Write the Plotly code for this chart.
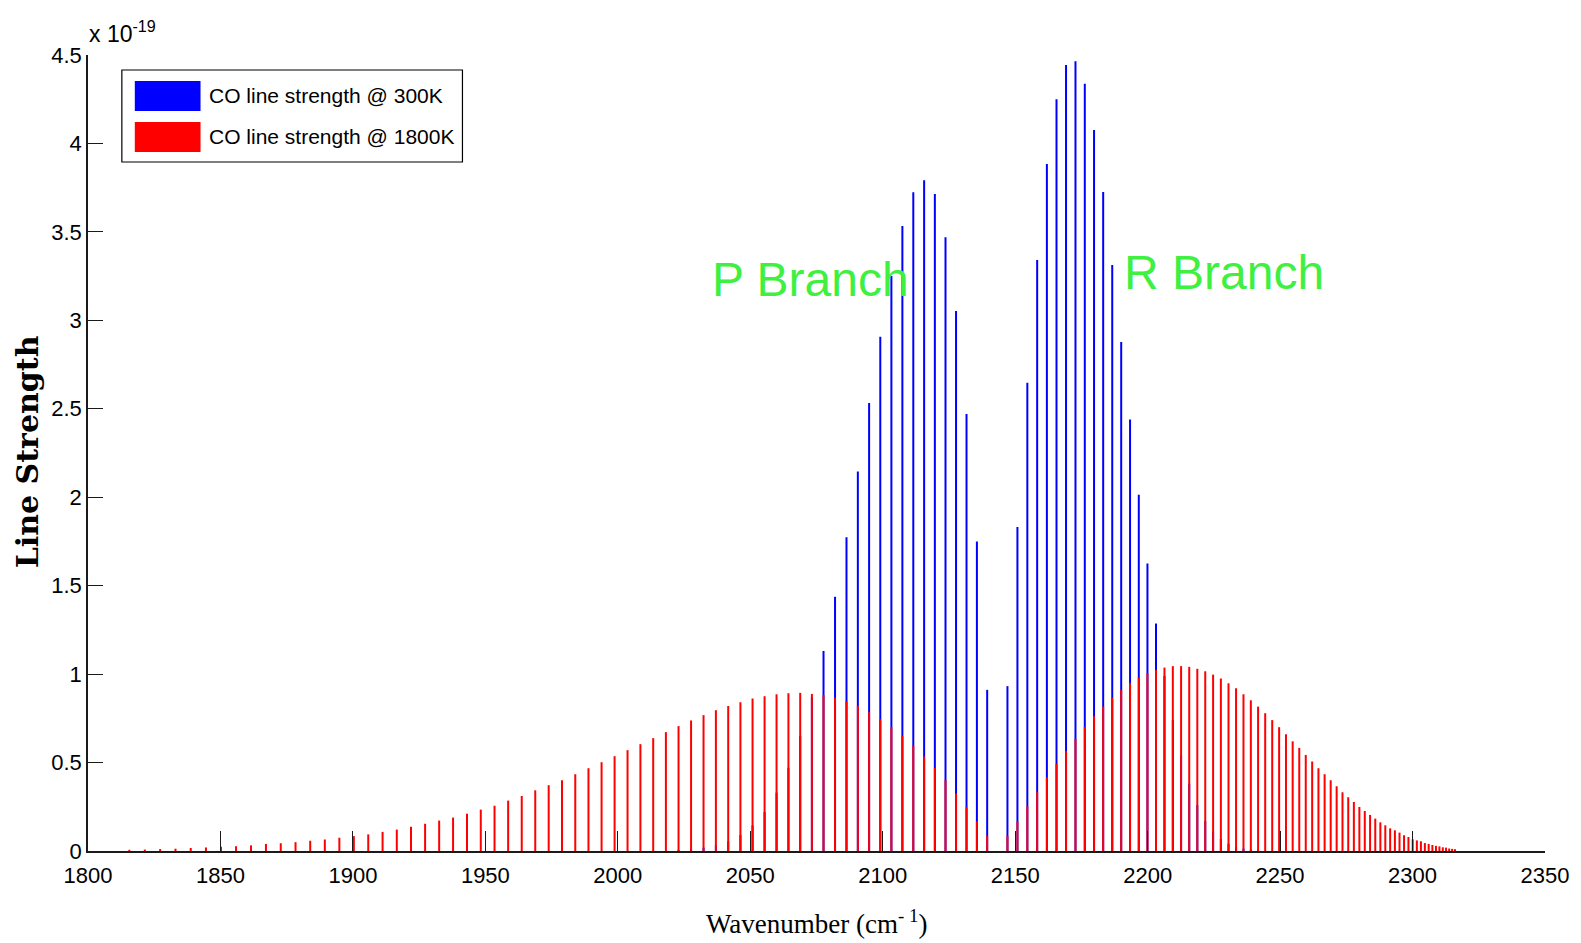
import plotly.graph_objects as go

# ---------------- data (line strength in units of 1e-19) ----------------
# P-branch line positions, P(1) ... P(67)  [cm^-1]
p_wavenumber = [2139.43, 2135.55, 2131.63, 2127.68, 2123.70, 2119.68, 2115.63, 2111.54, 2107.42, 2103.27,
                2099.08, 2094.86, 2090.61, 2086.32, 2082.00, 2077.65, 2073.26, 2068.85, 2064.40, 2059.92,
                2055.40, 2050.86, 2046.28, 2041.67, 2037.02, 2032.36, 2027.65, 2022.92, 2018.15, 2013.36,
                2008.53, 2003.67, 1998.78, 1993.87, 1988.92, 1983.94, 1978.93, 1973.90, 1968.83, 1963.73,
                1958.60, 1953.46, 1948.27, 1943.06, 1937.81, 1932.56, 1927.25, 1921.93, 1916.57, 1911.20,
                1905.79, 1900.35, 1894.88, 1889.40, 1883.88, 1878.34, 1872.76, 1867.17, 1861.54, 1855.89,
                1850.21, 1844.52, 1838.78, 1833.03, 1827.24, 1821.45, 1815.61]
# R-branch line positions, R(0) ... R(68)  [cm^-1]
r_wavenumber = [2147.08, 2150.85, 2154.59, 2158.30, 2161.97, 2165.60, 2169.20, 2172.76, 2176.28, 2179.77,
                2183.22, 2186.64, 2190.02, 2193.36, 2196.66, 2199.93, 2203.16, 2206.35, 2209.51, 2212.63,
                2215.70, 2218.75, 2221.75, 2224.71, 2227.64, 2230.53, 2233.38, 2236.18, 2238.96, 2241.69,
                2244.38, 2247.03, 2249.64, 2252.22, 2254.75, 2257.24, 2259.69, 2262.11, 2264.48, 2266.81,
                2269.10, 2271.35, 2273.56, 2275.72, 2277.85, 2279.93, 2281.97, 2283.97, 2285.93, 2287.85,
                2289.72, 2291.55, 2293.34, 2295.08, 2296.79, 2298.45, 2300.06, 2301.63, 2303.16, 2304.65,
                2306.09, 2307.49, 2308.84, 2310.15, 2311.42, 2312.64, 2313.82, 2314.95, 2316.03]

# 300 K strengths
p_strength_300 = [0.911, 1.75, 2.47, 3.053, 3.469, 3.714, 3.792, 3.724, 3.533, 3.25,
                  2.907, 2.532, 2.146, 1.774, 1.437, 1.131, 0.87, 0.65, 0.47, 0.33,
                  0.22, 0.145, 0.09, 0.055, 0.033, 0.019, 0.011, 0.006]
r_strength_300 = [0.932, 1.831, 2.647, 3.341, 3.884, 4.25, 4.444, 4.465, 4.337, 4.076,
                  3.726, 3.313, 2.877, 2.44, 2.014, 1.626, 1.286, 0.99, 0.74, 0.54,
                  0.38, 0.26, 0.17, 0.11, 0.068, 0.041, 0.024, 0.014, 0.008, 0.004]

# 1800 K strengths
p_strength_1800 = [0.085, 0.168, 0.247, 0.325, 0.40, 0.47, 0.534, 0.594, 0.65, 0.70,
                   0.745, 0.785, 0.82, 0.847, 0.866, 0.881, 0.888, 0.894, 0.892, 0.886,
                   0.875, 0.862, 0.841, 0.82, 0.796, 0.768, 0.738, 0.706, 0.672, 0.638,
                   0.604, 0.57, 0.536, 0.502, 0.468, 0.434, 0.40, 0.372, 0.343, 0.311,
                   0.285, 0.256, 0.234, 0.211, 0.189, 0.172, 0.154, 0.137, 0.121, 0.108,
                   0.094, 0.084, 0.075, 0.065, 0.058, 0.05, 0.044, 0.04, 0.032, 0.027,
                   0.024, 0.02, 0.017, 0.013, 0.011, 0.008, 0.007]
r_strength_1800 = [0.085, 0.168, 0.253, 0.334, 0.417, 0.492, 0.566, 0.634, 0.70, 0.762,
                   0.817, 0.866, 0.911, 0.95, 0.979, 1.005, 1.024, 1.037, 1.045, 1.045,
                   1.041, 1.03, 1.016, 0.997, 0.975, 0.948, 0.92, 0.886, 0.852, 0.816,
                   0.779, 0.74, 0.70, 0.66, 0.62, 0.583, 0.543, 0.506, 0.468, 0.434,
                   0.40, 0.366, 0.332, 0.304, 0.277, 0.249, 0.226, 0.204, 0.183, 0.162,
                   0.145, 0.128, 0.117, 0.104, 0.089, 0.079, 0.066, 0.06, 0.055, 0.045,
                   0.04, 0.034, 0.029, 0.026, 0.021, 0.019, 0.014, 0.012, 0.010]

x_ticks = [1800, 1850, 1900, 1950, 2000, 2050, 2100, 2150, 2200, 2250, 2300, 2350]
y_ticks = [0, 0.5, 1, 1.5, 2, 2.5, 3, 3.5, 4, 4.5]
legend_labels = ["CO line strength @ 300K", "CO line strength @ 1800K"]
series_colors = ["#0000ff", "#ff0000"]


def stems(xs, ys):
    X, Y = [], []
    for x, y in zip(xs, ys):
        X += [x, x, None]
        Y += [0, y, None]
    return X, Y


wn300 = p_wavenumber[:len(p_strength_300)] + r_wavenumber[:len(r_strength_300)]
s300 = p_strength_300 + r_strength_300
wn1800 = p_wavenumber + r_wavenumber
s1800 = p_strength_1800 + r_strength_1800

fig = go.Figure()
x1, y1 = stems(wn300, s300)
fig.add_trace(go.Scatter(x=x1, y=y1, mode="lines", line=dict(color=series_colors[0], width=2),
                         name=legend_labels[0], showlegend=False, hoverinfo="skip"))
x2, y2 = stems(wn1800, s1800)
fig.add_trace(go.Scatter(x=x2, y=y2, mode="lines", line=dict(color=series_colors[1], width=2),
                         name=legend_labels[1], showlegend=False, hoverinfo="skip"))

W, H = 1581, 943
ML, MR, MT, MB = 88, 30, 55, 92
PW, PH = W - ML - MR, H - MT - MB


def px(x):
    return (x - ML) / PW


def py(y):
    return (H - MB - y) / PH


sans = "Liberation Sans, Arial, sans-serif"
axis_col = "#1a1a1a"

fig.update_layout(
    width=W, height=H, autosize=False,
    margin=dict(l=ML, r=MR, t=MT, b=MB, pad=0),
    paper_bgcolor="white", plot_bgcolor="white",
    showlegend=False,
    xaxis=dict(range=[1800, 2350], tickvals=x_ticks, ticktext=[str(v) for v in x_ticks],
               ticks="inside", ticklen=20, tickwidth=1.2, tickcolor=axis_col,
               showline=True, linecolor=axis_col, linewidth=1.5, showgrid=False, zeroline=False,
               tickfont=dict(family=sans, size=22, color="black"), ticklabelstandoff=4),
    yaxis=dict(range=[0, 4.5], tickvals=y_ticks, ticktext=[f"{v:g}" for v in y_ticks],
               ticks="inside", ticklen=15, tickwidth=1.2, tickcolor=axis_col,
               showline=True, linecolor=axis_col, linewidth=1.5, showgrid=False, zeroline=False,
               tickfont=dict(family=sans, size=22, color="black"), ticklabelstandoff=0),
)

shapes = []
# legend box
shapes.append(dict(type="rect", xref="paper", yref="paper", x0=px(122), x1=px(464), y0=py(162), y1=py(70),
                   line=dict(color="black", width=1.2), fillcolor="white", layer="above"))
rows = [(81, 111), (122, 152)]
for (t, b), c in zip(rows, series_colors):
    shapes.append(dict(type="rect", xref="paper", yref="paper", x0=px(135), x1=px(201), y0=py(b), y1=py(t),
                       line=dict(width=0), fillcolor=c, layer="above"))
fig.update_layout(shapes=shapes)

ann = []
for (t, b), lab in zip(rows, legend_labels):
    ann.append(dict(text=lab, xref="paper", yref="paper", x=px(207), y=py((t + b) / 2), xanchor="left",
                    yanchor="middle", showarrow=False, font=dict(family=sans, size=21, color="black")))
ann.append(dict(text="x 10<sup>-19</sup>", xref="paper", yref="paper", x=px(87), y=py(49), xanchor="left",
                yanchor="bottom", showarrow=False, font=dict(family=sans, size=23, color="black")))
ann.append(dict(text="Line Strength", xref="paper", yref="paper", x=px(27), y=py(452), xanchor="center",
                yanchor="middle", textangle=-90, showarrow=False,
                font=dict(family="DejaVu Serif", size=30, color="black", weight="bold")))
ann.append(dict(text="Wavenumber (cm<sup>- 1</sup>)", xref="paper", yref="paper", x=px(819), y=py(922),
                xanchor="center", yanchor="middle", showarrow=False,
                font=dict(family="Liberation Serif, Times New Roman, serif", size=27, color="black")))
ann.append(dict(text="P Branch", xref="paper", yref="paper", x=px(713), y=py(279), xanchor="left",
                yanchor="middle", showarrow=False, font=dict(family=sans, size=48, color="#40f040")))
ann.append(dict(text="R Branch", xref="paper", yref="paper", x=px(1126), y=py(272), xanchor="left",
                yanchor="middle", showarrow=False, font=dict(family=sans, size=48, color="#40f040")))
fig.update_layout(annotations=ann)

fig.write_html("out.html", config={"displayModeBar": False},
               post_script="document.body.style.margin='0';document.body.style.overflow='hidden';")
